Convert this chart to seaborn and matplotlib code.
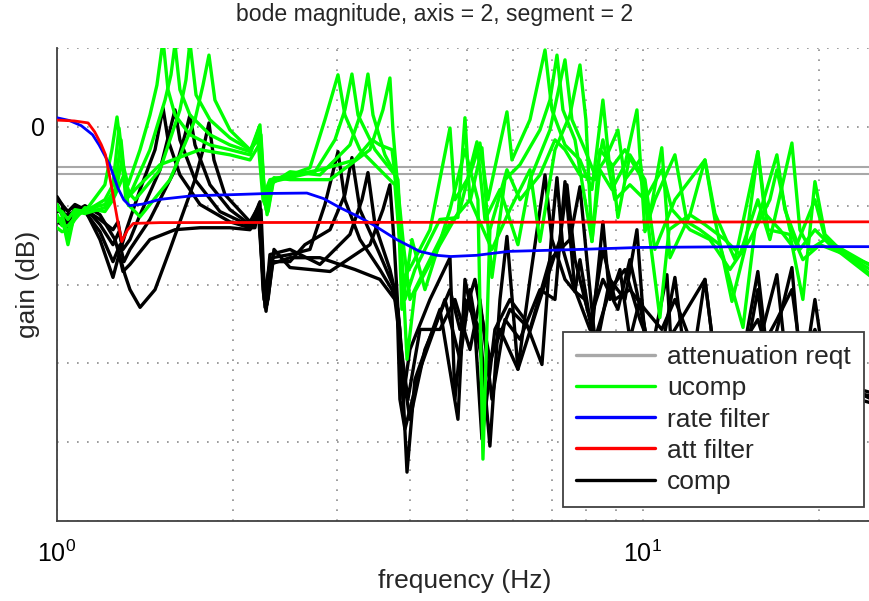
import pandas as pd
import matplotlib
matplotlib.use('Agg')
import matplotlib.pyplot as plt
import seaborn as sns
from matplotlib.lines import Line2D
from matplotlib.ticker import NullFormatter, FixedLocator

# attenuation requirement levels (dB)
att_reqt_db = [-10.1, -11.9]

# rate filter
rate_hz = [1.0, 1.05, 1.1, 1.15, 1.18, 1.23, 1.27, 1.3, 1.33, 1.4, 1.5, 1.7, 2.0, 2.3, 2.67, 2.85, 3.04, 3.25, 3.46, 3.8,
           4.16, 4.45, 4.7, 5.2, 5.9, 7.8, 9.9, 15.0, 25.0]
rate_db = [2.3, 1.6, 0.3, -2.0, -4.6, -9.6, -15.5, -18.5, -20.0, -19.6, -18.4, -17.5, -17.2, -16.9, -16.8, -18.2, -20.5,
           -22.6, -24.8, -28.6, -31.6, -32.6, -32.9, -32.6, -31.6, -31.1, -30.6, -30.4, -30.4]

# att filter
att_hz = [1.0, 1.07, 1.13, 1.16, 1.19, 1.21, 1.24, 1.27, 1.29, 1.32, 1.35, 1.5, 25.0]
att_db = [1.7, 1.5, 1.0, -1.3, -4.5, -7.1, -15.4, -24.1, -29.1, -26.1, -24.5, -24.3, -24.1]

# ucomp traces
ucomp1_hz = [1.0, 1.02, 1.044, 1.073, 1.116, 1.207, 1.246, 1.276, 1.296, 1.322, 1.386, 1.441, 1.481, 1.517, 1.547,
             1.59, 1.686, 1.824, 1.973, 2.135, 2.212, 2.247, 2.274, 2.328, 2.498, 2.702, 2.866, 3.017, 3.1, 3.289,
             3.557, 3.773, 3.894, 4.035, 4.331, 4.685, 4.777, 5.068, 5.27, 5.439, 5.861, 5.977, 6.416, 6.806, 6.994,
             7.362, 7.808, 8.185, 8.545, 8.783, 9.318, 9.883, 10.28, 10.77, 11.12, 12.03, 12.76, 13.27, 14.19, 14.93,
             15.71, 16.34, 17.82, 18.75, 19.66, 20.45, 22.12, 25.0]
ucomp1_db = [-19.7, -22.3, -28.1, -22.3, -21.5, -18.5, -14.7, -0.3, -9.6, -14.7, -5.8, 3.0, 10.6, 22.0, 9.4,
             3.0, -2.0, -4.6, -5.8, -7.1, -0.3, -12.2, -21.0, -13.4, -12.2, -10.4, 1.8, 13.2, 3.0, -5.8,
             -10.9, -14.7, -38.7, -34.9, -26.1, -0.3, -18.5, -12.2, -4.1, -18.5, 3.8, -8.4, 1.8, 19.5, 4.3,
             -4.6, -8.4, -15.9, 6.8, -10.9, -5.8, -12.2, -22.3, -5.3, -33.2, -22.3, -8.4, -23.5, -44.3, -31.1,
             -6.3, -26.1, -27.3, -43.8, -13.9, -27.3, -32.4, -37.0]

ucomp2_hz = [1.0, 1.02, 1.044, 1.073, 1.116, 1.207, 1.256, 1.286, 1.306, 1.332, 1.441, 1.529, 1.565, 1.59, 1.621,
             1.686, 1.824, 1.973, 2.135, 2.22, 2.256, 2.283, 2.337, 2.498, 2.756, 2.981, 3.1, 3.187, 3.264, 3.489,
             3.773, 3.925, 4.082, 4.504, 4.834, 4.969, 5.068, 5.312, 5.525, 5.815, 6.168, 6.672, 6.94, 7.134, 7.303,
             7.656, 8.185, 8.445, 8.852, 9.318, 9.768, 10.08, 10.48, 11.34, 11.89, 12.51, 13.53, 14.82, 15.53, 16.93,
             17.47, 18.53, 19.66, 20.85, 25.0]
ucomp2_db = [-22.3, -25.1, -25.1, -23.0, -21.0, -19.7, -15.9, -3.3, -13.4, -17.2, -5.8, 6.8, 13.2, 21.0, 9.4,
             3.0, -2.0, -4.6, -6.3, 0.5, -15.9, -22.3, -13.9, -12.9, -11.4, -3.3, 4.3, 13.4, 3.0, -5.8,
             -12.2, -43.8, -36.2, -23.5, -23.0, 2.3, -19.0, -5.3, -38.2, -13.4, -9.6, -0.8, 6.8, 18.2, 4.3,
             -3.3, -29.1, -10.9, -15.9, -9.6, 4.3, -26.6, -18.5, -7.1, -24.1, -26.1, -29.9, -50.9, -26.1, -7.1,
             -21.0, -31.1, -26.1, -29.9, -39.0]

ucomp3_hz = [1.0, 1.02, 1.044, 1.073, 1.116, 1.207, 1.256, 1.291, 1.311, 1.359, 1.499, 1.621, 1.66, 1.686, 1.727,
             1.824, 1.973, 2.135, 2.229, 2.265, 2.309, 2.498, 2.81, 3.162, 3.315, 3.394, 3.462, 3.628, 3.819, 3.957,
             4.082, 4.504, 4.872, 5.209, 5.375, 5.702, 6.119, 6.416, 6.94, 7.362, 7.567, 7.962, 8.28, 8.612, 9.064,
             9.318, 9.883, 10.69, 11.08, 12.03, 12.76, 13.8, 14.64, 15.71, 16.47, 17.96, 18.53, 19.28, 20.45, 25.0]
ucomp3_db = [-24.1, -23.0, -29.9, -21.5, -22.0, -20.5, -17.2, -8.4, -15.9, -18.5, -10.9, 4.3, 11.9, 21.5, 8.1,
             1.8, -2.8, -5.8, -2.0, -19.7, -14.7, -11.4, -12.2, -4.6, 4.3, 13.4, 3.0, -7.1, -13.4, -59.0,
             -41.8, -29.9, -21.0, -3.8, -23.5, -15.9, -29.9, -13.4, -0.8, 17.0, 1.8, -5.8, -12.2, -8.4, -0.8,
             -13.4, -8.4, -48.4, -26.1, -22.3, -24.8, -28.6, -32.4, -18.5, -28.6, -4.1, -26.1, -31.1, -28.6, -36.0]

ucomp4_hz = [1.0, 1.02, 1.044, 1.073, 1.116, 1.207, 1.246, 1.301, 1.322, 1.386, 1.559, 1.72, 1.775, 1.817, 1.86,
             1.973, 2.135, 2.203, 2.247, 2.292, 2.346, 2.498, 2.924, 3.421, 3.6, 3.7, 3.744, 3.819, 3.91, 4.003,
             4.164, 4.593, 5.068, 5.525, 5.93, 6.416, 6.672, 7.078, 7.507, 7.808, 7.993, 8.185, 8.445, 8.852, 9.064,
             9.502, 10.08, 10.48, 11.34, 12.76, 13.27, 14.36, 15.71, 16.15, 17.13, 18.17, 19.66, 20.45, 25.0]
ucomp4_db = [-25.6, -26.6, -26.1, -23.5, -20.5, -21.5, -18.5, -12.2, -19.7, -22.8, -13.4, 1.8, 10.6, 18.2, 6.8,
             -0.8, -5.8, -3.3, -18.5, -21.5, -12.9, -13.4, -13.4, -5.8, 4.3, 12.4, -0.8, -15.9, -31.1, -43.8,
             -38.7, -26.1, -18.5, -31.1, -21.0, -10.9, -29.1, -5.8, 3.0, 15.7, 1.8, -29.1, -5.8, -9.6, -23.0,
             -7.1, -13.4, -31.1, -18.5, -8.4, -22.0, -33.7, -6.3, -22.0, -26.1, -31.1, -18.5, -28.1, -38.5]

ucomp5_hz = [1.0, 1.02, 1.044, 1.073, 1.116, 1.207, 1.241, 1.266, 1.286, 1.311, 1.359, 1.499, 1.754, 1.973, 2.135,
             2.212, 2.256, 2.309, 2.498, 2.81, 3.225, 3.448, 3.557, 3.73, 3.819, 3.878, 4.035, 4.246, 4.685, 4.969,
             5.229, 5.333, 5.481, 5.861, 6.168, 6.672, 7.078, 7.362, 7.808, 8.28, 8.545, 8.957, 9.502, 10.08, 10.77,
             11.21, 12.03, 13.01, 14.08, 15.23, 16.47, 16.93, 17.82, 18.75, 20.05, 25.0]
ucomp5_db = [-21.0, -21.5, -23.5, -21.0, -21.5, -14.7, -5.8, 2.5, -5.8, -18.5, -15.9, -9.6, -5.8, -7.1, -8.4,
             -4.6, -17.2, -13.4, -12.4, -10.9, -8.4, -3.3, -4.6, -5.8, -18.5, -46.3, -28.6, -41.3, -21.0, -5.8,
             -18.5, -84.3, -26.1, -10.9, -18.5, -12.2, -3.3, -5.8, -12.2, -13.4, -3.3, -18.5, -14.7, -18.5, -10.9,
             -21.0, -26.1, -28.6, -36.2, -28.6, -18.5, -10.9, -26.1, -33.7, -29.9, -35.5]

# comp traces
comp1_hz = [1.0, 1.02, 1.044, 1.073, 1.116, 1.184, 1.246, 1.271, 1.291, 1.317, 1.386, 1.47, 1.517, 1.547, 1.621,
            1.754, 1.973, 2.135, 2.177, 2.212, 2.247, 2.274, 2.328, 2.498, 2.702, 2.866, 3.017, 3.1, 3.289, 3.557,
            3.73, 3.819, 3.894, 4.003, 4.331, 4.685, 4.777, 4.969, 5.27, 5.481, 5.702, 5.861, 6.119, 6.416, 6.806,
            6.994, 7.362, 7.656, 7.808, 8.185, 8.545, 8.783, 9.137, 9.502, 9.883, 10.28, 10.99, 11.21, 12.03, 12.76,
            13.27, 14.36, 15.71, 16.34, 17.82, 18.53, 19.66, 20.45, 22.55, 25.0]
comp1_db = [-17.7, -19.7, -26.1, -20.5, -21.0, -23.5, -26.1, -24.1, -29.9, -25.6, -15.9, -5.8, 4.8, -3.3, -12.2,
            -19.7, -24.1, -25.6, -25.6, -19.7, -41.3, -46.8, -33.2, -32.4, -31.1, -19.7, -6.3, -18.5, -28.6, -36.2,
            -41.3, -46.3, -69.1, -56.5, -43.8, -33.2, -69.1, -43.8, -51.4, -81.0, -43.8, -27.8, -61.5, -38.7, -12.2,
            -28.6, -38.7, -41.8, -33.7, -51.9, -24.1, -43.8, -36.2, -53.9, -43.8, -59.0, -37.5, -59.0, -64.1, -38.7,
            -59.0, -69.1, -36.7, -59.0, -61.5, -69.1, -43.8, -61.5, -66.6, -69.1]

comp2_hz = [1.0, 1.02, 1.044, 1.073, 1.116, 1.184, 1.246, 1.276, 1.296, 1.332, 1.386, 1.499, 1.559, 1.59, 1.621,
            1.72, 1.897, 2.135, 2.22, 2.256, 2.283, 2.337, 2.498, 2.649, 2.924, 3.1, 3.187, 3.289, 3.557, 3.773,
            3.848, 3.957, 4.082, 4.504, 4.834, 4.969, 5.168, 5.312, 5.59, 5.93, 6.29, 6.725, 6.994, 7.134, 7.303,
            7.656, 7.962, 8.347, 8.783, 9.318, 9.768, 10.08, 10.69, 11.34, 11.8, 13.01, 14.64, 15.53, 16.93, 17.47,
            19.28, 21.69, 25.0]
comp2_db = [-19.7, -22.3, -22.3, -21.5, -20.5, -24.8, -29.9, -26.6, -31.1, -28.6, -22.3, -10.9, -0.8, 4.3, -3.3,
            -13.4, -21.5, -25.1, -19.0, -43.8, -45.1, -34.2, -34.2, -29.9, -26.1, -17.2, -7.8, -21.0, -32.4, -41.3,
            -51.4, -87.6, -64.1, -46.3, -74.2, -38.7, -51.4, -79.2, -51.4, -43.8, -48.9, -60.3, -26.1, -12.9, -31.1,
            -41.8, -43.8, -55.2, -38.7, -43.8, -26.1, -53.9, -59.0, -38.2, -59.0, -64.1, -74.2, -59.0, -37.5, -56.5,
            -64.1, -67.8, -70.4]

comp3_hz = [1.0, 1.02, 1.044, 1.073, 1.116, 1.184, 1.246, 1.281, 1.301, 1.332, 1.441, 1.59, 1.654, 1.686, 1.72,
            1.824, 1.973, 2.135, 2.229, 2.265, 2.309, 2.498, 2.81, 3.162, 3.315, 3.394, 3.489, 3.7, 3.804, 3.848,
            3.925, 4.164, 4.593, 4.872, 5.068, 5.375, 5.702, 6.119, 6.672, 7.218, 7.419, 7.656, 8.121, 8.545, 9.064,
            9.502, 10.08, 10.69, 11.12, 12.03, 13.53, 15.71, 16.47, 17.96, 18.53, 20.45, 25.0]
comp3_db = [-21.5, -21.0, -28.1, -20.0, -21.5, -26.6, -34.2, -29.9, -34.2, -31.1, -23.5, -10.9, -2.0, 3.0, -4.6,
            -14.7, -21.0, -24.8, -21.0, -45.8, -32.4, -31.1, -34.9, -27.3, -18.5, -11.6, -24.8, -36.2, -43.8, -69.1,
            -76.7, -61.5, -43.8, -59.0, -41.3, -64.1, -51.4, -61.5, -43.8, -28.6, -14.7, -33.7, -48.9, -38.7, -46.3,
            -33.7, -51.4, -69.1, -53.9, -56.5, -64.1, -48.9, -59.0, -35.7, -59.0, -64.1, -67.8]

comp4_hz = [1.0, 1.02, 1.044, 1.073, 1.116, 1.184, 1.256, 1.306, 1.332, 1.386, 1.47, 1.559, 1.72, 1.775, 1.817,
            1.853, 1.935, 2.135, 2.203, 2.247, 2.292, 2.346, 2.498, 2.924, 3.421, 3.6, 3.7, 3.759, 3.819, 3.91,
            4.003, 4.246, 4.685, 4.872, 5.168, 5.481, 5.93, 6.416, 6.94, 7.507, 7.808, 7.993, 8.28, 8.783, 9.318,
            9.883, 10.48, 11.34, 12.76, 13.27, 14.64, 15.71, 16.15, 17.82, 19.66, 20.85, 25.0]
comp4_db = [-24.1, -24.8, -24.1, -21.5, -20.0, -22.3, -28.6, -37.5, -41.3, -45.8, -41.3, -31.1, -13.4, -5.8, 1.0,
            -8.4, -17.2, -24.1, -20.5, -38.7, -43.8, -31.1, -35.7, -36.7, -29.9, -21.0, -14.7, -28.6, -46.3, -64.1,
            -74.2, -56.5, -41.3, -51.4, -38.7, -59.0, -46.3, -51.4, -33.7, -28.6, -15.2, -31.1, -53.9, -41.3, -36.2,
            -48.9, -59.0, -51.4, -38.7, -59.0, -66.6, -41.3, -56.5, -64.1, -51.4, -64.1, -69.6]

comp5_hz = [1.0, 1.02, 1.044, 1.073, 1.116, 1.184, 1.246, 1.276, 1.296, 1.332, 1.441, 1.59, 1.754, 1.973, 2.135,
            2.212, 2.256, 2.309, 2.498, 2.81, 3.225, 3.557, 3.773, 3.848, 3.972, 4.164, 4.504, 4.777, 5.068, 5.27,
            5.525, 5.815, 6.168, 6.672, 7.078, 7.362, 7.656, 8.121, 8.545, 8.957, 9.502, 10.08, 10.77, 11.34, 12.03,
            13.53, 15.23, 16.93, 17.96, 18.75, 19.66, 21.69, 25.0]
comp5_db = [-18.5, -19.7, -21.5, -19.7, -21.0, -28.6, -38.2, -32.4, -36.7, -34.9, -28.6, -26.1, -25.6, -25.6, -26.1,
            -22.3, -42.5, -34.9, -33.2, -33.2, -36.2, -38.7, -43.8, -53.9, -69.1, -51.4, -51.4, -43.8, -56.5, -43.8,
            -69.1, -48.9, -53.9, -41.3, -43.8, -13.9, -41.3, -51.4, -31.1, -43.8, -41.3, -46.3, -51.4, -43.8, -53.9,
            -56.5, -61.5, -48.9, -41.3, -61.5, -53.9, -66.6, -68.6]

legend_labels = ['attenuation reqt', 'ucomp', 'rate filter', 'att filter', 'comp']

GRAY, GREEN, BLUE, RED, BLACK = '#a8a8a8', '#00ff00', '#0000ff', '#ff0000', '#000000'


def traces(pairs):
    frames = []
    for i, (hz, db) in enumerate(pairs):
        frames.append(pd.DataFrame({'hz': hz, 'db': db, 'trace': i}))
    return pd.concat(frames, ignore_index=True)


ucomp = traces([(ucomp1_hz, ucomp1_db), (ucomp2_hz, ucomp2_db), (ucomp3_hz, ucomp3_db),
                (ucomp4_hz, ucomp4_db), (ucomp5_hz, ucomp5_db)])
comp = traces([(comp1_hz, comp1_db), (comp2_hz, comp2_db), (comp3_hz, comp3_db),
               (comp4_hz, comp4_db), (comp5_hz, comp5_db)])

sns.set_theme(style='white')
plt.rcParams['font.family'] = ['Liberation Sans', 'DejaVu Sans']

fig = plt.figure(figsize=(8.69, 6.01), dpi=100)
ax = fig.add_axes([57 / 869, 1 - 521 / 601, 816 / 869, 473 / 601])

# 衰减要求线
for lvl in att_reqt_db:
    ax.axhline(lvl, color=GRAY, lw=1.5, zorder=2)

sns.lineplot(data=comp, x='hz', y='db', units='trace', estimator=None, sort=False,
             color=BLACK, lw=2.4, ax=ax, legend=False, zorder=3)
sns.lineplot(data=ucomp, x='hz', y='db', units='trace', estimator=None, sort=False,
             color=GREEN, lw=2.4, ax=ax, legend=False, zorder=4)
sns.lineplot(x=rate_hz, y=rate_db, color=BLUE, lw=2.0, ax=ax, zorder=5)
sns.lineplot(x=att_hz, y=att_db, color=RED, lw=2.0, ax=ax, zorder=6)

ax.set_xscale('log')
ax.set_xlim(1, 24.7)
ax.set_ylim(-100, 20)

yt = list(range(-100, 21, 20))
ax.yaxis.set_major_locator(FixedLocator(yt))
ax.set_yticklabels(['0' if t == 0 else '' for t in yt])
ax.xaxis.set_minor_formatter(NullFormatter())

ax.tick_params(which='both', direction='in', length=7, width=1.2, color='#404040',
               labelcolor='black', labelsize=18)
ax.tick_params(axis='y', pad=9)
ax.tick_params(axis='x', pad=14)
for side in ['top', 'right']:
    ax.spines[side].set_visible(False)
for side in ['left', 'bottom']:
    ax.spines[side].set_color('#404040')
    ax.spines[side].set_linewidth(1.3)

# 点状网格
ax.grid(True, which='both', axis='x', color='#8c8c8c', linestyle=(0, (1, 5)), lw=1.2)
ax.grid(True, which='major', axis='y', color='#8c8c8c', linestyle=(0, (1, 5)), lw=1.2)

ax.set_xlabel('frequency (Hz)', fontsize=19)
ax.xaxis.set_label_coords(0.5, -(581 - 521) / 473)
ax.xaxis.label.set_va('center')
ax.set_ylabel('gain (dB)', fontsize=19, va='center')
ax.yaxis.set_label_coords(-(57 - 28) / 816, 0.5)
fig.text(0.5, 1 - 14 / 601, 'bode magnitude, axis = 2, segment = 2', ha='center', va='center', fontsize=16.6)

handles = [Line2D([], [], color=c, lw=2.4) for c in [GRAY, GREEN, BLUE, RED, BLACK]]
leg = ax.legend(handles, legend_labels, loc='lower right', bbox_to_anchor=(864 / 869, 1 - 507 / 601),
                bbox_transform=fig.transFigure, borderaxespad=0, fontsize=19, frameon=True,
                fancybox=False, handlelength=3.0, handletextpad=0.45, labelspacing=0.27, borderpad=0.5)
leg.get_frame().set_edgecolor('#404040')
leg.get_frame().set_linewidth(1.3)
leg.get_frame().set_alpha(1)
leg.set_zorder(10)

fig.savefig('out.png', dpi=100)
